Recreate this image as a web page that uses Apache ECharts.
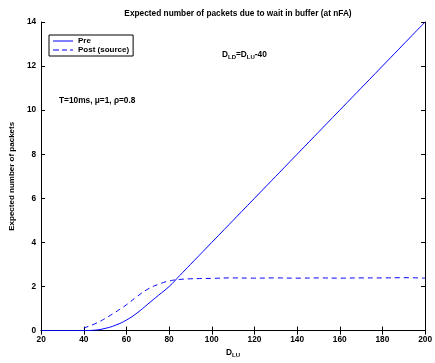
<!DOCTYPE html>
<html>
<head>
<meta charset="utf-8">
<script src="https://cdn.jsdelivr.net/npm/echarts@6/dist/echarts.min.js"></script>
<style>
  html, body { margin: 0; padding: 0; background: #fff; }
  #chart { width: 435px; height: 363px; }
</style>
</head>
<body>
<div id="chart"></div>
<script>
// D_LU values and the two curves
var preX = [20, 30, 40, 45, 50, 55, 60, 65, 70, 75, 80, 85, 90, 100, 120, 140, 160, 180, 200]
var preY = [0, 0, 0, 0.02, 0.1, 0.25, 0.48, 0.8, 1.2, 1.6, 2.0, 2.5, 3.0, 4.0, 6.0, 8.0, 10.0, 12.0, 14.0]
var postX = [40, 45, 50, 55, 60, 65, 70, 75, 80, 85, 90, 100, 110, 120, 130, 140, 150, 160, 170, 180, 190, 200]
var postY = [0.12, 0.3, 0.55, 0.85, 1.17, 1.55, 1.88, 2.1, 2.25, 2.32, 2.35, 2.37, 2.39, 2.38, 2.39, 2.38, 2.39, 2.38, 2.39, 2.39, 2.4, 2.38]
var xTicks = [20, 40, 60, 80, 100, 120, 140, 160, 180, 200]
var yTicks = [0, 2, 4, 6, 8, 10, 12, 14]

var font = 'Liberation Sans, Arial, sans-serif'
var blue = '#0000ff'

function pairs(xs, ys) {
    return xs.map(function (x, i) { return [x, ys[i]] })
}

var dom = echarts.init(document.getElementById('chart'))

var axisBase = {
    axisLine: { show: true, lineStyle: { color: '#000', width: 1 } },
    axisTick: { show: true, inside: true, length: 4, lineStyle: { color: '#000' } },
    splitLine: { show: false }
}

dom.setOption({
    animation: false,
    title: {
        text: 'Expected number of packets due to wait in buffer (at nFA)',
        left: 233,
        textAlign: 'center',
        top: 5,
        textStyle: { fontFamily: font, fontSize: 8.3, fontWeight: 'bold', color: '#000' }
    },
    grid: { left: 33, right: 3, top: 22, bottom: 28 },
    xAxis: [
        Object.assign({}, axisBase, {
            type: 'value', min: xTicks[0], max: xTicks[xTicks.length - 1], interval: 20,
            position: 'bottom',
            axisLabel: { fontFamily: font, fontSize: 8.3, fontWeight: 'bold', color: '#000', margin: 5 },
            name: '{a|D}{s|LU}',
            nameLocation: 'middle',
            nameGap: 16,
            nameTextStyle: {
                rich: {
                    a: { fontFamily: font, fontSize: 8.3, fontWeight: 'bold', color: '#000' },
                    s: { fontFamily: font, fontSize: 6, fontWeight: 'bold', color: '#000', padding: [5, 0, 0, 0] }
                }
            }
        }),
        Object.assign({}, axisBase, {
            type: 'value', min: xTicks[0], max: xTicks[xTicks.length - 1], interval: 20,
            position: 'top',
            axisLabel: { show: false }
        })
    ],
    yAxis: [
        Object.assign({}, axisBase, {
            type: 'value', min: yTicks[0], max: yTicks[yTicks.length - 1], interval: 2,
            position: 'left',
            axisLabel: { fontFamily: font, fontSize: 8.3, fontWeight: 'bold', color: '#000', margin: 5 },
            name: 'Expected number of packets',
            nameLocation: 'middle',
            nameGap: 18,
            nameTextStyle: { fontFamily: font, fontSize: 8, fontWeight: 'bold', color: '#000' }
        }),
        Object.assign({}, axisBase, {
            type: 'value', min: yTicks[0], max: yTicks[yTicks.length - 1], interval: 2,
            position: 'right',
            axisLabel: { show: false }
        })
    ],
    legend: {
        left: 49,
        top: 35,
        orient: 'vertical',
        itemWidth: 20,
        itemHeight: 8,
        itemGap: 1,
        padding: [2, 4, 2, 4],
        borderColor: '#000',
        borderWidth: 1,
        backgroundColor: '#fff',
        textStyle: { fontFamily: font, fontSize: 8, fontWeight: 'bold', color: '#000' },
        data: [
            { name: 'Pre', icon: 'path://M0,4L20,4L20,5L0,5Z' },
            { name: 'Post (source)', icon: 'path://M0,4L6,4L6,5L0,5ZM9,4L14,4L14,5L9,5ZM17,4L20,4L20,5L17,5Z' }
        ]
    },
    graphic: [
        {
            type: 'text', left: 222, top: 51,
            style: {
                text: '{a|D}{s|LD}{a|=D}{s|LU}{a|-40}',
                rich: {
                    a: { fontFamily: font, fontSize: 8.3, fontWeight: 'bold', fill: '#000' },
                    s: { fontFamily: font, fontSize: 6, fontWeight: 'bold', fill: '#000', padding: [5, 0, 0, 0] }
                }
            }
        },
        {
            type: 'text', left: 59, top: 97,
            style: { text: 'T=10ms, \u03bc=1, \u03c1=0.8', fontFamily: font, fontSize: 8.3, fontWeight: 'bold', fill: '#000' }
        }
    ],
    series: [
        {
            name: 'Pre', type: 'line', smooth: true, symbol: 'none',
            lineStyle: { color: blue, width: 1 }, itemStyle: { color: blue },
            data: pairs(preX, preY)
        },
        {
            name: 'Post (source)', type: 'line', smooth: true, symbol: 'none',
            lineStyle: { color: blue, width: 1, type: [5, 4] }, itemStyle: { color: blue },
            data: pairs(postX, postY)
        }
    ]
})
</script>
</body>
</html>
